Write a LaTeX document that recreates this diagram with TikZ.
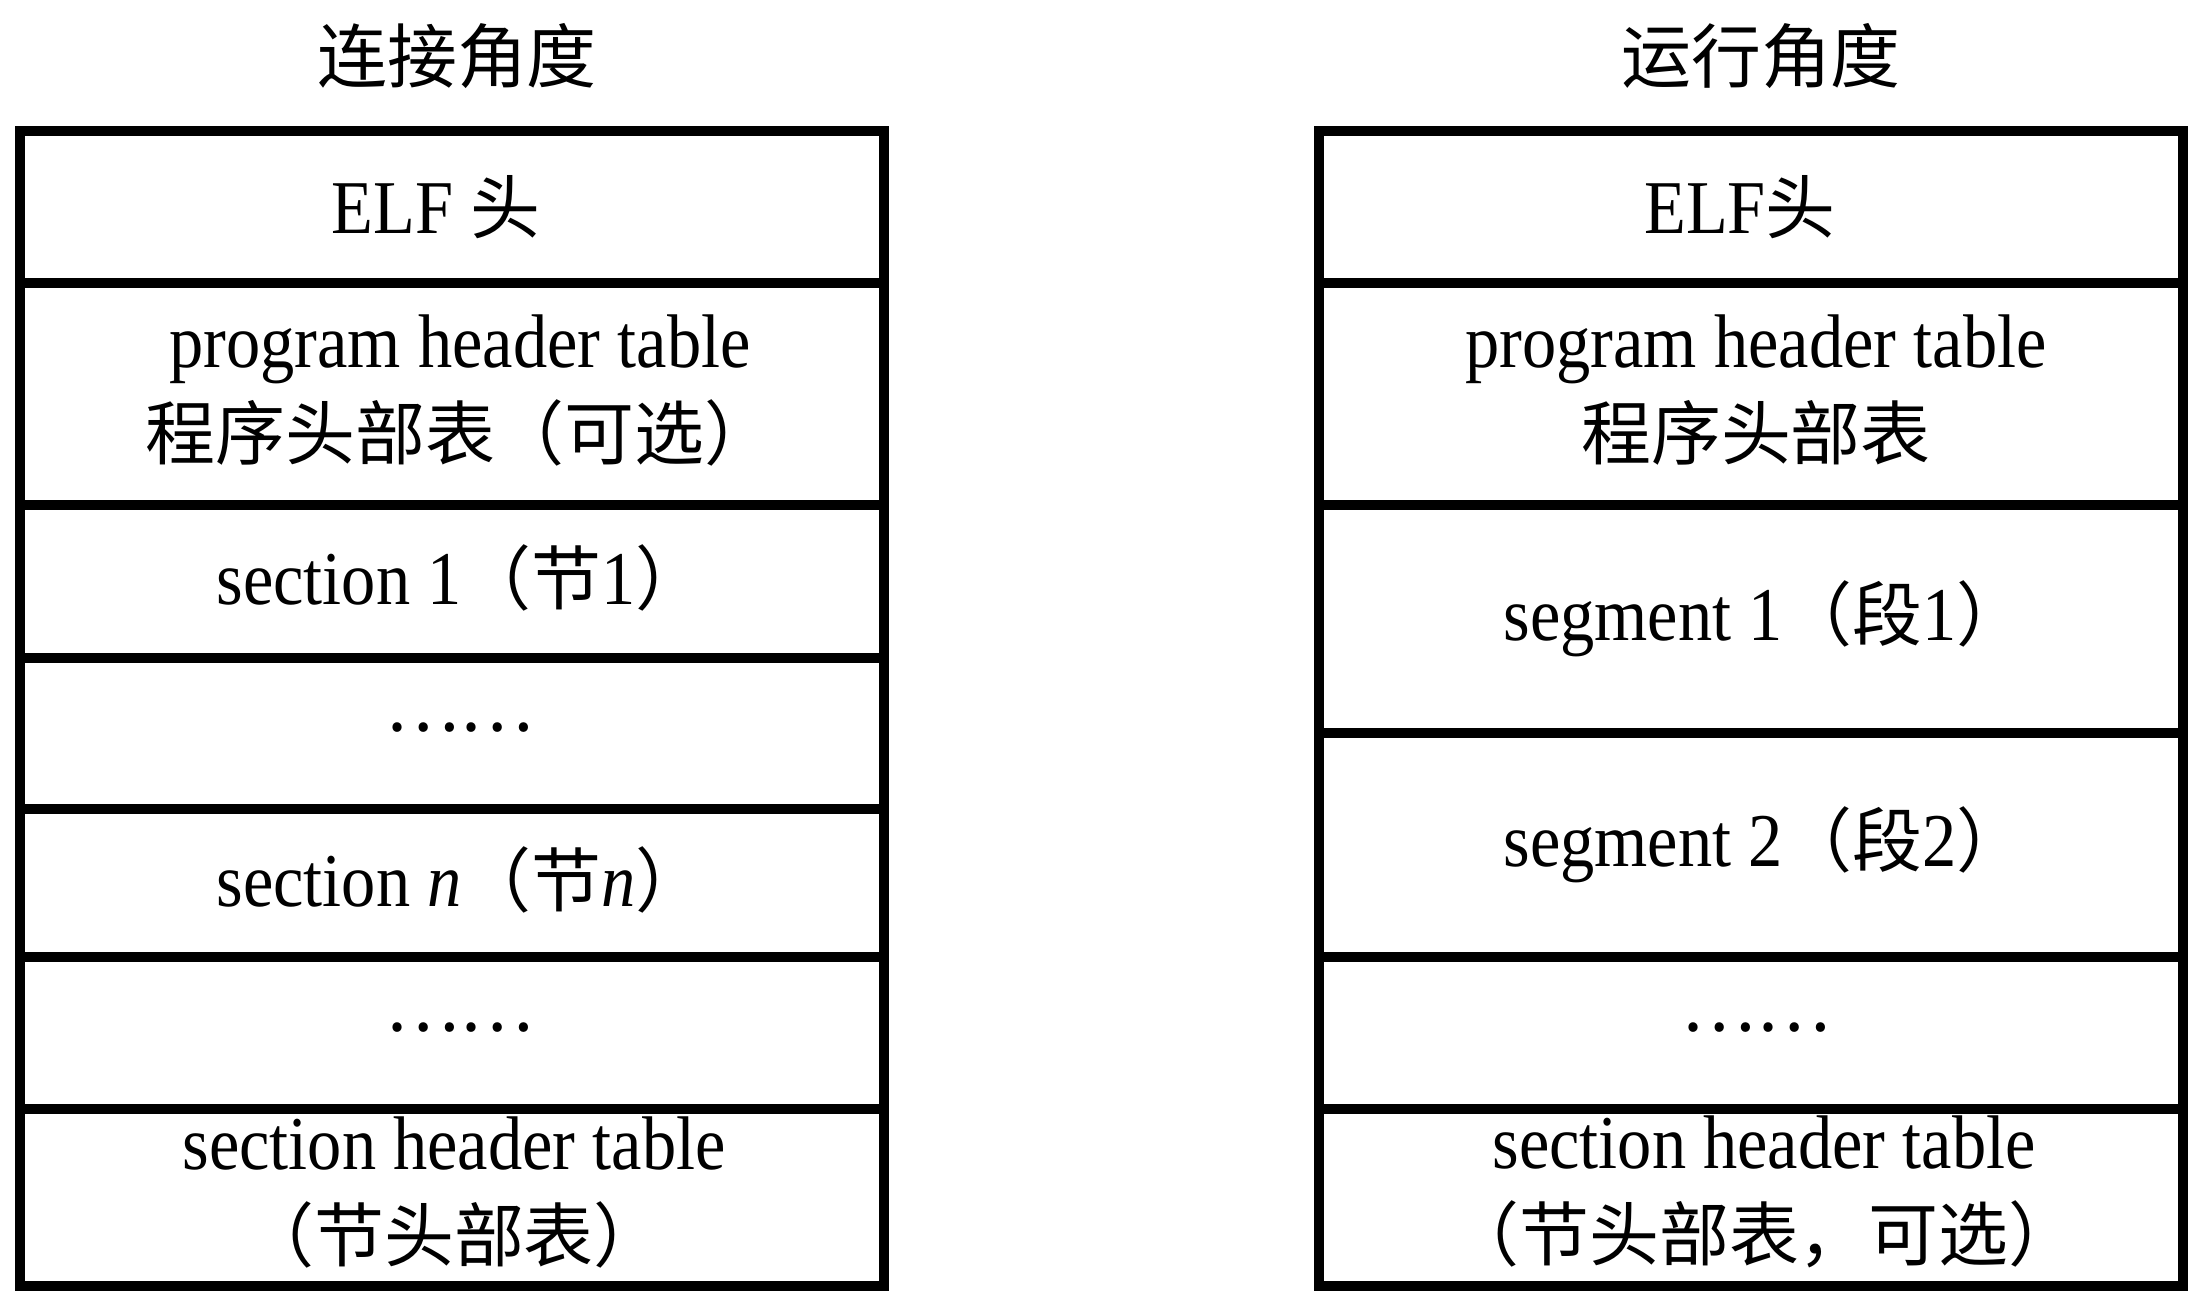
\documentclass[tikz,border=0pt]{standalone}
\usepackage{fontspec}
\setmainfont{Liberation Serif}[FakeStretch=0.9]
\newfontfamily\cjk{Noto Sans CJK SC}[Scale=0.92]
\newcommand{\zh}[1]{{\cjk #1}}

\begin{document}
\begin{tikzpicture}[x=0.25pt,y=0.25pt,yscale=-1,xscale=1,
  frame/.style={line width=2.5pt},
  label/.style={inner sep=0.75pt,align=center,font=\fontsize{19}{23}\selectfont}]
\useasboundingbox (0,0) rectangle (2200,1304);

%Shape: Rectangle [link view]
\draw [frame] (20,131) rectangle (884,1286) ;
%Straight Lines [link view rows]
\foreach \y in {283,505,658,809,957,1109}
  \draw [frame] (20,\y) -- (884,\y) ;
%Shape: Rectangle [run view]
\draw [frame] (1319,131) rectangle (2183,1286) ;
%Straight Lines [run view rows]
\foreach \y in {283,505,733,957,1109}
  \draw [frame] (1319,\y) -- (2183,\y) ;

% Text Node
\draw (457,56) node [label] (titleL) {\zh{连接角度}};
% Text Node
\draw (1761,56) node [label] (titleR) {\zh{运行角度}};

% Text Node
\draw (436,207) node [label] (elfL) {ELF \zh{头}};
% Text Node
\draw (460,390) node [label] (phtL) {program header table\\\zh{程序头部表（可选）}};
% Text Node
\draw (461,578) node [label] (secA) {section 1\zh{（节}1\zh{）}};
% Text Node
\draw (460,728) node [label] (dotsA) {\zh{……}};
% Text Node
\draw (461,880) node [label] (secN) {section \textit{n}\zh{（节}\textit{n}\zh{）}};
% Text Node
\draw (460,1028) node [label] (dotsB) {\zh{……}};
% Text Node
\draw (454,1192) node [label] (shtL) {section header table\\\zh{（节头部表）}};

% Text Node
\draw (1740,207) node [label] (elfR) {ELF\zh{头}};
% Text Node
\draw (1756,390) node [label] (phtR) {program header table\\\zh{程序头部表}};
% Text Node
\draw (1765,619) node [label] (segA) {segment 1\zh{（段}1\zh{）}};
% Text Node
\draw (1765,845) node [label] (segB) {segment 2\zh{（段}2\zh{）}};
% Text Node
\draw (1756,1028) node [label] (dotsC) {\zh{……}};
% Text Node
\draw (1764,1192) node [label] (shtR) {section header table\\\zh{（节头部表，可选）}};

\end{tikzpicture}
\end{document}
